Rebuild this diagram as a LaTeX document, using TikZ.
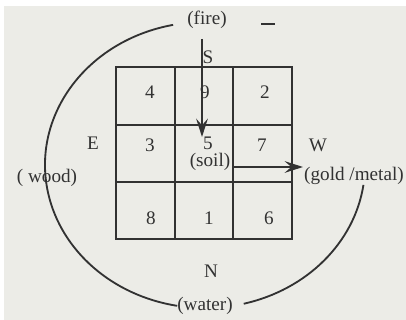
\documentclass[tikz,border=0pt]{standalone}
\usepackage{fontspec}
\setmainfont{Liberation Serif}
\usetikzlibrary{arrows.meta}
\definecolor{paper}{RGB}{236,236,231}
\definecolor{ink}{RGB}{50,50,50}
\begin{document}
\begin{tikzpicture}[x=0.6pt, y=-0.6pt, line width=1.1pt, color=ink,
    every node/.style={font=\fontsize{11.5}{13}\selectfont, inner sep=1pt},
    flow/.style={-{Stealth[length=11pt, width=7pt, inset=4pt]}}]
  \fill[white] (0,0) rectangle (406,320);
  \fill[paper] (4,6) rectangle (406,320);
  \useasboundingbox (0,0) rectangle (406,320);
  % grid
  \draw (116,67) rectangle (292,239);
  \foreach \x in {175,233} {
    \draw (\x,67) -- (\x,239);
  }
  \foreach \y in {125,182} {
    \draw (116,\y) -- (292,\y);
  }
  \foreach \n/\x/\y in {4/150/92, 9/205/92, 2/265/92,
                        3/150/145, 5/208/143, 7/262/145,
                        8/151/218, 1/209/218, 6/269/218} {
    \node (c\n) at (\x,\y) {\n};
  }
  % directions and elements
  \node (fire) at (207,20) {(fire)};
  \node (south) at (208,57) {S};
  \node (east) at (93,143) {E};
  \node (west) at (318,145) {W};
  \node (north) at (211,271) {N};
  \node (soil) at (210,162) {(soil)};
  \node (wood) at (47,178) {( wood)};
  \node (gold) at (354,176) {(gold /metal)};
  \node (water) at (205,306) {(water)};
  % cycle
  \coordinate (ctr) at (205,165);
  \draw ([shift={(258.5:160 and 143)}]ctr) arc[start angle=258.5, end angle=100, x radius=160, y radius=143];
  \draw ([shift={(8:160 and 143)}]ctr) arc[start angle=8, end angle=76, x radius=160, y radius=143];
  \draw (261,24) -- (275,24);
  % arrows
  \coordinate (fire tail) at (202,39);
  \coordinate (soil tip) at (202,137);
  \coordinate (soil tail) at (233,167);
  \coordinate (gold tip) at (303,167);
  \draw[flow] (fire tail) -- (soil tip);
  \draw[flow] (soil tail) -- (gold tip);
\end{tikzpicture}
\end{document}
